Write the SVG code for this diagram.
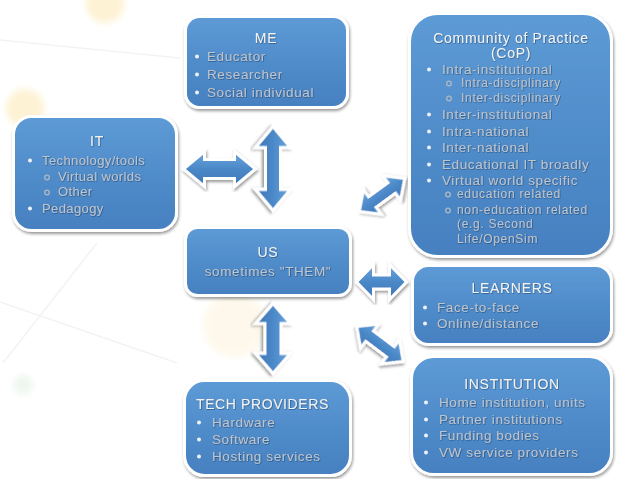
<svg xmlns="http://www.w3.org/2000/svg" width="617" height="479" viewBox="0 0 617 479">
<defs>
<linearGradient id="boxg" x1="0" y1="0" x2="0" y2="1">
<stop offset="0" stop-color="#5d9bd6"/>
<stop offset="0.5" stop-color="#508cca"/>
<stop offset="1" stop-color="#4680c0"/>
</linearGradient>
<linearGradient id="arrg" x1="0" y1="0" x2="0" y2="1">
<stop offset="0" stop-color="#6aa6dc"/>
<stop offset="0.5" stop-color="#4b88c8"/>
<stop offset="1" stop-color="#3d76b6"/>
</linearGradient>
<filter id="sh" x="-10%" y="-10%" width="120%" height="125%">
<feDropShadow dx="1" dy="2" stdDeviation="1.6" flood-color="#000" flood-opacity="0.4"/>
</filter>
<filter id="tsh" x="-5%" y="-20%" width="110%" height="140%">
<feDropShadow dx="0.6" dy="0.6" stdDeviation="0.5" flood-color="#1f3f66" flood-opacity="0.8"/>
</filter>
<filter id="blur" x="-50%" y="-50%" width="200%" height="200%">
<feGaussianBlur stdDeviation="3"/>
</filter>
</defs>
<style>
.box{fill:url(#boxg);stroke:#ffffff;stroke-width:3;filter:url(#sh)}
.arr{fill:url(#arrg);stroke:#ffffff;stroke-width:3;stroke-linejoin:miter;filter:url(#sh)}
.t{font-family:"Liberation Sans",Arial,sans-serif;font-size:14px;fill:#f1f3f5;letter-spacing:0.7px;filter:url(#tsh)}
.i{font-family:"Liberation Sans",Arial,sans-serif;font-size:13.5px;fill:#bcc4ce;letter-spacing:0.6px;filter:url(#tsh)}
.s{font-family:"Liberation Sans",Arial,sans-serif;font-size:12px;fill:#bcc4ce;letter-spacing:0.7px;filter:url(#tsh)}
.b{fill:#eef2f6}
.o{fill:none;stroke:#aeb8c4;stroke-width:1.3}
.bg{stroke:#f3f3f3;stroke-width:1.5;fill:none}
</style>
<rect width="617" height="479" fill="#ffffff"/>
<g id="background">
<line class="bg" x1="0" y1="40" x2="180" y2="58"/>
<line class="bg" x1="0" y1="302" x2="177" y2="363"/>
<line class="bg" x1="97" y1="243" x2="3" y2="363"/>
<circle cx="105" cy="4" r="19" fill="#fdeec6" opacity="0.75" filter="url(#blur)"/>
<circle cx="25" cy="108" r="19" fill="#fdeec6" opacity="0.75" filter="url(#blur)"/>
<circle cx="235" cy="325" r="32" fill="#fdf5df" opacity="0.6" filter="url(#blur)"/>
<circle cx="23" cy="385" r="10" fill="#edf6ee" opacity="0.9" filter="url(#blur)"/>
</g>
<g id="connectors">
<polygon class="arr" transform="translate(219.5,169)" points="-36,0 -15,-17.5 -15,-9.5 15,-9.5 15,-17.5 36,0 15,17.5 15,9.5 -15,9.5 -15,17.5"/>
<polygon class="arr" transform="translate(273,168.5) rotate(90)" points="-42,0 -21,-17.5 -21,-7.5 21,-7.5 21,-17.5 42,0 21,17.5 21,7.5 -21,7.5 -21,17.5"/>
<polygon class="arr" transform="translate(273,338.5) rotate(90)" points="-35,0 -15,-17.5 -15,-8 15,-8 15,-17.5 35,0 15,17.5 15,8 -15,8 -15,17.5"/>
<polygon class="arr" transform="translate(381.5,282)" points="-25,0 -8,-17.5 -8,-7 8,-7 8,-17.5 25,0 8,17.5 8,7 -8,7 -8,17.5"/>
<polygon class="arr" transform="translate(382,195) rotate(-36)" points="-28,0 -12,-15 -12,-6.5 12,-6.5 12,-15 28,0 12,15 12,6.5 -12,6.5 -12,15"/>
<polygon class="arr" transform="translate(380,344) rotate(37)" points="-29,0 -13,-15 -13,-6.5 13,-6.5 13,-15 29,0 13,15 13,6.5 -13,6.5 -13,15"/>
</g>
<g id="me">
<rect class="box" x="185.5" y="16.5" width="162" height="91" rx="14"/>
<text class="t" x="266" y="43" text-anchor="middle">ME</text>
<circle class="b" cx="197" cy="56.5" r="2"/>
<text class="i" x="207" y="61">Educator</text>
<circle class="b" cx="197" cy="74.5" r="2"/>
<text class="i" x="207" y="79">Researcher</text>
<circle class="b" cx="197" cy="92.5" r="2"/>
<text class="i" x="207" y="97">Social individual</text>
</g>
<g id="cop">
<rect class="box" x="409.5" y="13.5" width="202" height="243" rx="28"/>
<text class="t" x="511" y="43" text-anchor="middle">Community of Practice</text>
<text class="t" x="511" y="58" text-anchor="middle">(CoP)</text>
<circle class="b" cx="429" cy="69.5" r="2"/>
<text class="i" x="442" y="74">Intra-institutional</text>
<circle class="o" cx="449" cy="83.5" r="2.3"/>
<text class="s" x="461" y="87">Intra-disciplinary</text>
<circle class="o" cx="449" cy="98.5" r="2.3"/>
<text class="s" x="461" y="102">Inter-disciplinary</text>
<circle class="b" cx="429" cy="114.5" r="2"/>
<text class="i" x="442" y="119">Inter-institutional</text>
<circle class="b" cx="429" cy="131.5" r="2"/>
<text class="i" x="442" y="136">Intra-national</text>
<circle class="b" cx="429" cy="147.5" r="2"/>
<text class="i" x="442" y="152">Inter-national</text>
<circle class="b" cx="429" cy="164.5" r="2"/>
<text class="i" x="442" y="169">Educational IT broadly</text>
<circle class="b" cx="429" cy="180.5" r="2"/>
<text class="i" x="442" y="185">Virtual world specific</text>
<circle class="o" cx="448" cy="194.5" r="2.3"/>
<text class="s" x="457" y="198">education related</text>
<circle class="o" cx="448" cy="210.5" r="2.3"/>
<text class="s" x="457" y="214">non-education related</text>
<text class="s" x="457" y="228">(e.g. Second</text>
<text class="s" x="457" y="243">Life/OpenSim</text>
</g>
<g id="it">
<rect class="box" x="13.5" y="116.5" width="163" height="114" rx="18"/>
<text class="t" x="97" y="146" text-anchor="middle">IT</text>
<circle class="b" cx="30" cy="160.5" r="2"/>
<text class="i" x="42" y="165" style="font-size:13px;letter-spacing:0.4px">Technology/tools</text>
<circle class="o" cx="47" cy="177.5" r="2.3"/>
<text class="i" x="58" y="181" style="font-size:13px;letter-spacing:0.4px">Virtual worlds</text>
<circle class="o" cx="47" cy="192.5" r="2.3"/>
<text class="i" x="58" y="196" style="font-size:13px;letter-spacing:0.4px">Other</text>
<circle class="b" cx="30" cy="208.5" r="2"/>
<text class="i" x="42" y="213" style="font-size:13px;letter-spacing:0.4px">Pedagogy</text>
</g>
<g id="us">
<rect class="box" x="185.5" y="227.5" width="165" height="68" rx="12"/>
<text class="t" x="268" y="257" text-anchor="middle">US</text>
<text class="i" x="268" y="276" text-anchor="middle">sometimes &quot;THEM&quot;</text>
</g>
<g id="learners">
<rect class="box" x="412.5" y="265.5" width="199" height="79" rx="16"/>
<text class="t" x="512" y="293" text-anchor="middle">LEARNERS</text>
<circle class="b" cx="425" cy="307.5" r="2"/>
<text class="i" x="437" y="312">Face-to-face</text>
<circle class="b" cx="425" cy="323.5" r="2"/>
<text class="i" x="437" y="328">Online/distance</text>
</g>
<g id="institution">
<rect class="box" x="411.5" y="356.5" width="200" height="118" rx="22"/>
<text class="t" x="512" y="389" text-anchor="middle">INSTITUTION</text>
<circle class="b" cx="426" cy="402.5" r="2"/>
<text class="i" x="439" y="407">Home institution, units</text>
<circle class="b" cx="426" cy="419.5" r="2"/>
<text class="i" x="439" y="424">Partner institutions</text>
<circle class="b" cx="426" cy="435.5" r="2"/>
<text class="i" x="439" y="440">Funding bodies</text>
<circle class="b" cx="426" cy="452.5" r="2"/>
<text class="i" x="439" y="457">VW service providers</text>
</g>
<g id="tech-providers">
<rect class="box" x="184.5" y="380.5" width="166" height="95" rx="20"/>
<text class="t" x="196" y="409" style="letter-spacing:0.6px">TECH PROVIDERS</text>
<circle class="b" cx="199" cy="422.5" r="2"/>
<text class="i" x="212" y="427">Hardware</text>
<circle class="b" cx="199" cy="439.5" r="2"/>
<text class="i" x="212" y="444">Software</text>
<circle class="b" cx="199" cy="456.5" r="2"/>
<text class="i" x="212" y="461">Hosting services</text>
</g>
</svg>
